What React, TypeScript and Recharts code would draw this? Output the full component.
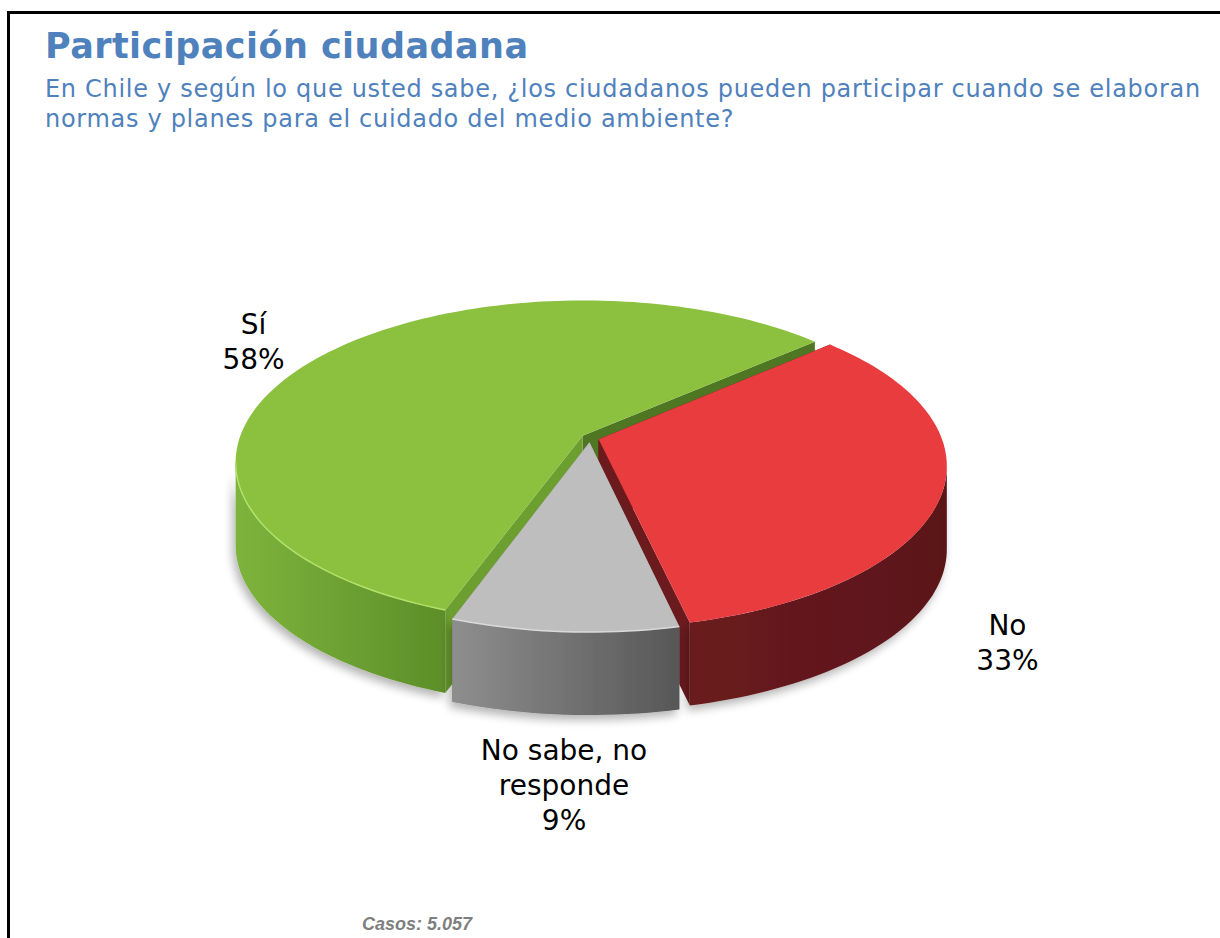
import { Pie, PieChart } from 'recharts'

// survey answers
const CATEGORIES = ['Sí', 'No', 'No sabe, no responde']
const SHARES = [58, 33, 9]

const TITLE = 'Participación ciudadana'
const SUBTITLE = [
  'En Chile y según lo que usted sabe, ¿los ciudadanos pueden participar cuando se elaboran',
  'normas y planes para el cuidado del medio ambiente?',
]
const CASES = 'Casos: 5.057'

// colours per slice
const TOP_COLORS = ['#8bc13f', '#e83c3f', '#bebebe']
const WALL_COLORS = [
  ['#7db43c', '#5d8e2a'],
  ['#6a1b1e', '#5a1619'],
  ['#8e8e8e', '#575757'],
]
// [face at the smaller angle, face at the larger angle]
const CUT_COLORS = [
  ['#4f7623', '#6c9e30'],
  ['#6b1b1e', '#5a1517'],
  ['#7a7a7a', '#8a8a8a'],
]
const RIM_COLORS = ['#b4e06c', '', '#dadada']

// fake 3d camera
const CX = 590
const CY = 438
const RADIUS = 343
const TILT_SIN = 0.46
const TILT_COS = 0.888
const PERSP = 5.5
const DEPTH = 83
const EXPLODE = 9

const LABEL_OFFSET = [
  [-76, -16],
  [74, 153],
  [-1, 159],
]
const LABEL_FONT = 28
const LABEL_LH = 35

const BLUE = '#4f81bd'
const SANS = "'DejaVu Sans', Verdana, sans-serif"

const data = CATEGORIES.map((name, i) => ({ name, value: SHARES[i] }))

const RAD = Math.PI / 180

function project(cx: number, cy: number, R: number, r: number, deg: number, ox = 0, oz = 0) {
  const x = r * Math.cos(deg * RAD) + ox
  const z = r * Math.sin(deg * RAD) + oz // positive = away from viewer
  const m = PERSP / (PERSP + (z / R) * TILT_COS)
  return [cx + x * m, cy - z * TILT_SIN * m]
}

const toPath = (pts: number[][], close = true) =>
  'M' + pts.map((p) => p[0].toFixed(2) + ',' + p[1].toFixed(2)).join('L') + (close ? 'Z' : '')

function Slice3D(props: any) {
  const { cx, cy, outerRadius: R, startAngle, endAngle, index } = props
  const lo = Math.min(startAngle, endAngle)
  const hi = Math.max(startAngle, endAngle)
  const mid = (lo + hi) / 2
  const ox = EXPLODE * Math.cos(mid * RAD)
  const oz = EXPLODE * Math.sin(mid * RAD)
  const pt = (deg: number, r = R) => project(cx, cy, R, r, deg, ox, oz)
  const arc = (a: number, b: number) => {
    const n = Math.max(2, Math.ceil(Math.abs(b - a) / 1.5))
    return Array.from({ length: n + 1 }, (_, i) => pt(a + ((b - a) * i) / n))
  }
  const down = (p: number[]) => [p[0], p[1] + DEPTH]
  const apex = pt(0, 0)

  // cut faces, back ones first
  const faces = [
    { deg: lo, color: CUT_COLORS[index][0] },
    { deg: hi, color: CUT_COLORS[index][1] },
  ].sort((a, b) => Math.sin(b.deg * RAD) - Math.sin(a.deg * RAD))

  // visible part of the outer wall
  const sil = Math.asin(TILT_COS / PERSP) / RAD
  const walls: number[][] = []
  for (const k of [-360, 0, 360]) {
    const a = Math.max(lo, 180 + sil + k)
    const b = Math.min(hi, 360 - sil + k)
    if (b > a) walls.push([a, b])
  }

  const gid = `wall-grad-${index}`
  const fid = `wall-shadow-${index}`
  return (
    <g>
      <defs>
        <linearGradient id={gid} x1='0' y1='0' x2='1' y2='0'>
          <stop offset='0%' stopColor={WALL_COLORS[index][0]} />
          <stop offset='100%' stopColor={WALL_COLORS[index][1]} />
        </linearGradient>
        <filter id={fid} x='-20%' y='-20%' width='140%' height='150%'>
          <feGaussianBlur in='SourceAlpha' stdDeviation='5' />
          <feOffset dx='-3' dy='5' />
          <feComponentTransfer>
            <feFuncA type='linear' slope='0.3' />
          </feComponentTransfer>
          <feMerge>
            <feMergeNode />
            <feMergeNode in='SourceGraphic' />
          </feMerge>
        </filter>
      </defs>
      {faces.map((f, i) => {
        const rim = pt(f.deg)
        return <path key={i} d={toPath([apex, rim, down(rim), down(apex)])} fill={f.color} />
      })}
      <g filter={`url(#${fid})`}>
        {walls.map(([a, b], i) => {
          const top = arc(a, b)
          const bottom = arc(a, b).reverse().map(down)
          return <path key={i} d={toPath([...top, ...bottom])} fill={`url(#${gid})`} />
        })}
      </g>
      <path d={toPath([apex, ...arc(lo, hi)])} fill={TOP_COLORS[index]} />
      {RIM_COLORS[index] &&
        walls.map(([a, b], i) => (
          <path
            key={'rim' + i}
            d={toPath(arc(a, b), false)}
            fill='none'
            stroke={RIM_COLORS[index]}
            strokeWidth={1.5}
          />
        ))}
    </g>
  )
}

function wrap(text: string, max: number) {
  const lines: string[] = []
  let cur = ''
  for (const w of text.split(' ')) {
    if (cur && (cur + ' ' + w).length > max) {
      lines.push(cur)
      cur = w
    } else {
      cur = cur ? cur + ' ' + w : w
    }
  }
  if (cur) lines.push(cur)
  return lines
}

function SliceLabel(props: any) {
  const { cx, cy, outerRadius: R, startAngle, endAngle, index } = props
  const mid = (startAngle + endAngle) / 2
  const [bx, by] = project(cx, cy, R, R, mid)
  const tx = bx + LABEL_OFFSET[index][0]
  const ty = by + LABEL_OFFSET[index][1]
  const lines = [...wrap(CATEGORIES[index], 11), `${SHARES[index]}%`]
  const first = ty - ((lines.length - 1) * LABEL_LH) / 2 + LABEL_FONT * 0.365
  return (
    <text x={tx} textAnchor='middle' fontSize={LABEL_FONT} fontFamily={SANS} fill='#000'>
      {lines.map((l, i) => (
        <tspan key={i} x={tx} y={first + i * LABEL_LH}>
          {l}
        </tspan>
      ))}
    </text>
  )
}

export default function App() {
  return (
    <div
      style={{
        position: 'fixed',
        left: 0,
        top: 0,
        width: 1220,
        height: 938,
        overflow: 'hidden',
        background: '#fff',
      }}
    >
      <div
        style={{
          position: 'absolute',
          left: 7,
          top: 11,
          width: 1300,
          height: 1000,
          borderTop: '3px solid #000',
          borderLeft: '3px solid #000',
        }}
      />
      <div style={{ position: 'absolute', left: 0, top: 0 }}>
        <PieChart width={1220} height={938} margin={{ top: 0, right: 0, bottom: 0, left: 0 }}>
          <Pie
            data={data}
            dataKey='value'
            nameKey='name'
            cx={CX}
            cy={CY}
            outerRadius={RADIUS}
            startAngle={250.3}
            endAngle={-109.7}
            stroke='none'
            labelLine={false}
            label={SliceLabel}
            shape={(p: any) => <Slice3D {...p} />}
            isAnimationActive={false}
          />
        </PieChart>
      </div>
      <svg
        width={1220}
        height={938}
        style={{ position: 'absolute', left: 0, top: 0, pointerEvents: 'none' }}
      >
        <text
          x={45}
          y={58}
          fontSize={35}
          fontWeight='bold'
          letterSpacing={0.45}
          fontFamily={SANS}
          fill={BLUE}
        >
          {TITLE}
        </text>
        {SUBTITLE.map((line, i) => (
          <text
            key={i}
            x={45}
            y={97 + i * 30}
            fontSize={24}
            letterSpacing={0.7}
            fontFamily={SANS}
            fill={BLUE}
          >
            {line}
          </text>
        ))}
        <text
          x={362}
          y={930}
          fontSize={18}
          fontWeight='bold'
          fontStyle='italic'
          fontFamily="'Liberation Sans', Arial, sans-serif"
          fill='#7f7f7f'
        >
          {CASES}
        </text>
      </svg>
    </div>
  )
}
